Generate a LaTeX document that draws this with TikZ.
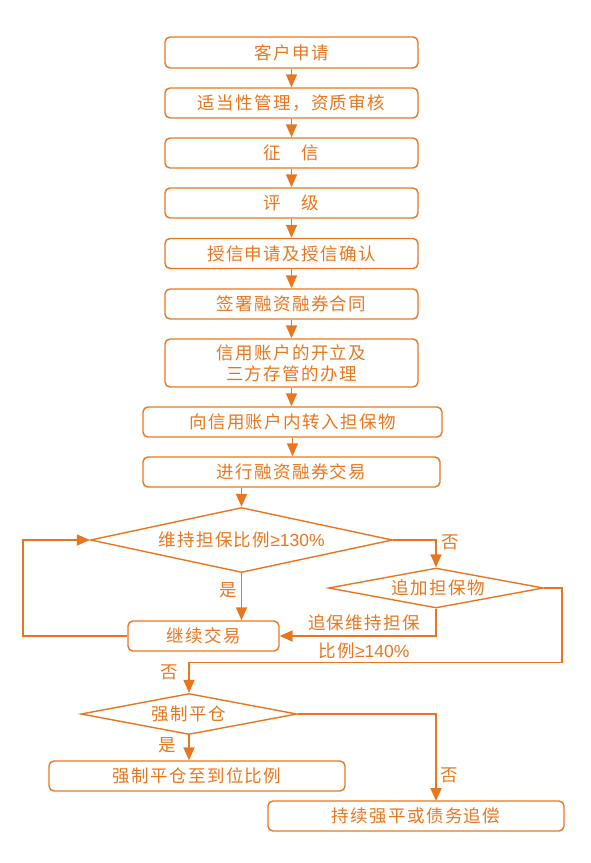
\documentclass[tikz,border=0pt]{standalone}
\usepackage{fontspec}
\newfontfamily\cjk[LetterSpace=8]{Noto Sans CJK SC}
\newfontfamily\lat{Liberation Sans}
\usetikzlibrary{arrows.meta,shapes.geometric}
\definecolor{org}{HTML}{E8761E}
\tikzset{
  box/.style={draw=org,line width=1.4pt,rounded corners=5pt,inner sep=0pt,text=org,font=\cjk\fontsize{17.5}{21}\selectfont,align=center},
  dia/.style={draw=org,line width=1.4pt,diamond,inner sep=0pt,text=org,font=\cjk\fontsize{17.5}{21}\selectfont},
  lab/.style={text=org,font=\cjk\fontsize{17.5}{21}\selectfont,inner sep=0pt},
  conn/.style={draw=org,line width=1.8pt,-{Triangle[width=11pt,length=13pt]}}
}
\begin{document}
\begin{tikzpicture}[x=1pt,y=-1pt]
\useasboundingbox (0,0) rectangle (591,863);
\node[box,minimum width=253pt,minimum height=31pt] (b1) at (291.5,52.5) {客户申请};
\node[box,minimum width=253pt,minimum height=30pt] (b2) at (291.5,103) {适当性管理，资质审核};
\node[box,minimum width=253pt,minimum height=30pt] (b3) at (291.5,153) {征　信};
\node[box,minimum width=253pt,minimum height=30pt] (b4) at (291.5,203) {评　级};
\node[box,minimum width=253pt,minimum height=30pt] (b5) at (291.5,253.5) {授信申请及授信确认};
\node[box,minimum width=253pt,minimum height=30pt] (b6) at (291.5,304) {签署融资融券合同};
\node[box,minimum width=253pt,minimum height=48pt] (b7) at (291.5,363) {信用账户的开立及\\三方存管的办理};
\node[box,minimum width=299pt,minimum height=30pt] (b8) at (292.5,422) {向信用账户内转入担保物};
\node[box,minimum width=297pt,minimum height=30pt] (b9) at (291.5,472) {进行融资融券交易};
\node[dia,aspect=4.65,minimum width=302pt,minimum height=65pt] (d1) at (241.5,540) {维持担保比例{\lat ≥130\%}};
\node[dia,aspect=5.4,minimum width=215pt,minimum height=40pt] (d2) at (436,588) {\hspace*{4pt}追加担保物};
\node[box,minimum width=151pt,minimum height=30pt] (b10) at (203.5,636) {继续交易};
\node[dia,aspect=5.27,minimum width=216pt,minimum height=41pt] (d3) at (189,714) {强制平仓};
\node[box,minimum width=296pt,minimum height=30pt] (b11) at (197,776) {强制平仓至到位比例};
\node[box,minimum width=296pt,minimum height=30pt] (b12) at (416,816) {持续强平或债务追偿};
\coordinate (lp) at (23,636);
\coordinate (rp) at (562,662.5);
\coordinate (b12in) at (436,801);
\draw[conn] (b1) -- (b2);
\draw[conn] (b2) -- (b3);
\draw[conn] (b3) -- (b4);
\draw[conn] (b4) -- (b5);
\draw[conn] (b5) -- (b6);
\draw[conn] (b6) -- (b7);
\draw[conn] (b7.south) -- (b7.south |- b8.north);
\draw[conn] (b8.south) -- (b8.south |- b9.north);
\draw[conn] (d1.north |- b9.south) -- (d1.north);
\draw[conn] (d1.south) -- (d1.south |- b10.north);
\draw[conn] (b10.west) -- (lp) |- (d1.west);
\draw[conn] (d1.east) -| (d2.north);
\draw[conn] (d2.south) |- (b10.east);
\draw[conn] (d2.east) -| (rp) -| (d3.north);
\draw[conn] (d3.south) -- (d3.south |- b11.north);
\draw[conn] (d3.east) -| (b12in);
\node[lab] (l1) at (450,542) {否};
\node[lab] (l2) at (228,590) {是};
\node[lab] (l3) at (364,623) {追保维持担保};
\node[lab] (l4) at (364,651) {比例{\lat ≥140\%}};
\node[lab] (l5) at (169,672) {否};
\node[lab] (l6) at (167,745) {是};
\node[lab] (l7) at (449,775) {否};
\end{tikzpicture}
\end{document}
